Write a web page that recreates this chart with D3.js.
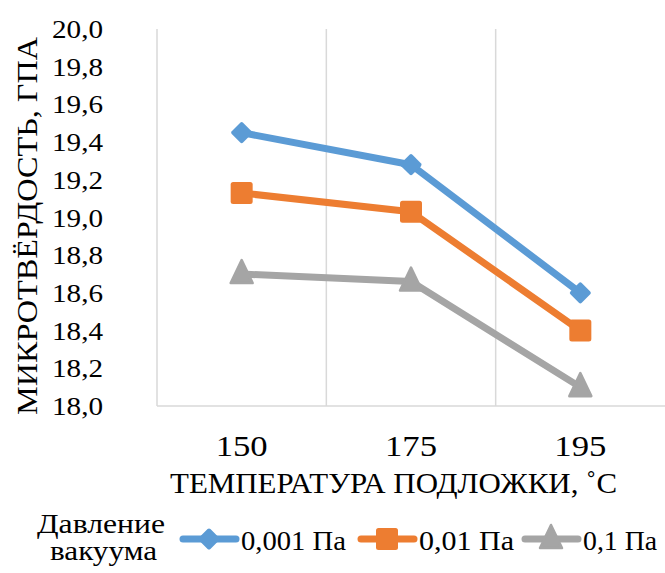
<!DOCTYPE html>
<html>
<head>
<meta charset="utf-8">
<script src="https://cdn.jsdelivr.net/npm/d3@7"></script>
<style>
  body { margin: 0; background: #fff; }
</style>
</head>
<body>
<svg id="chart" width="665" height="573"></svg>
<script>
const categories = ['150', '175', '195'];
const seriesNames = ['0,001 Па', '0,01 Па', '0,1 Па'];
const values001 = [19.45, 19.28, 18.60];
const values01 = [19.13, 19.03, 18.40];
const values1 = [18.70, 18.66, 18.10];
const yTicks = [18.0, 18.2, 18.4, 18.6, 18.8, 19.0, 19.2, 19.4, 19.6, 19.8, 20.0];

const series = [
  { name: seriesNames[0], values: values001, color: '#5B9BD5', kind: 'diamond' },
  { name: seriesNames[1], values: values01, color: '#ED7D31', kind: 'square' },
  { name: seriesNames[2], values: values1, color: '#A5A5A5', kind: 'triangle' }
];

const width = 665, height = 573;
const margin = { top: 29, right: 0, bottom: 167, left: 157 };
const innerW = width - margin.left - margin.right;
const innerH = height - margin.top - margin.bottom;
const FONT = 'Liberation Serif, Times New Roman, serif';

const svg = d3.select('#chart');

const g = svg.append('g')
  .attr('transform', `translate(${margin.left},${margin.top})`);

const x = d3.scaleBand().domain(categories).range([0, innerW]);
const y = d3.scaleLinear().domain([18, 20]).range([innerH, 0]);

// stretch text to the widths seen in the original (serif font not always picked up)
const fit = (sel, len) => sel
  .attr('textLength', len)
  .attr('lengthAdjust', 'spacingAndGlyphs');

// vertical grid lines at category boundaries
g.selectAll('line.grid')
  .data(categories)
  .join('line')
  .attr('class', 'grid')
  .attr('x1', d => x(d))
  .attr('x2', d => x(d))
  .attr('y1', 0)
  .attr('y2', innerH)
  .attr('stroke', '#d9d9d9')
  .attr('stroke-width', 1.5);

// bottom axis line
g.append('line')
  .attr('x1', 0).attr('x2', innerW)
  .attr('y1', innerH).attr('y2', innerH)
  .attr('stroke', '#d9d9d9')
  .attr('stroke-width', 1.5);

// y tick labels
g.selectAll('text.ytick')
  .data(yTicks)
  .join('text')
  .attr('class', 'ytick')
  .attr('x', -105)
  .attr('y', d => y(d))
  .attr('dy', '0.36em')
  .attr('font-family', FONT)
  .attr('font-size', 25)
  .attr('fill', '#000')
  .text(d => d.toFixed(1).replace('.', ','))
  .call(fit, 51);

// x tick labels
g.selectAll('text.xtick')
  .data(categories)
  .join('text')
  .attr('class', 'xtick')
  .attr('x', d => x(d) + x.bandwidth() / 2 - 26)
  .attr('y', innerH + 50)
  .attr('font-family', FONT)
  .attr('font-size', 29)
  .attr('fill', '#000')
  .text(d => d)
  .call(fit, 52);

// axis titles
svg.append('text')
  .attr('x', 170)
  .attr('y', 493)
  .attr('font-family', FONT)
  .attr('font-size', 30)
  .attr('fill', '#000')
  .text('ТЕМПЕРАТУРА ПОДЛОЖКИ, ˚С')
  .call(fit, 447);

svg.append('text')
  .attr('transform', 'translate(37,415) rotate(-90)')
  .attr('font-family', FONT)
  .attr('font-size', 30)
  .attr('fill', '#000')
  .text('МИКРОТВЁРДОСТЬ, ГПА')
  .call(fit, 378);

const line = d3.line()
  .x((d, i) => x(categories[i]) + x.bandwidth() / 2)
  .y(d => y(d));

function marker(sel, kind, color) {
  if (kind === 'diamond') {
    sel.append('rect')
      .attr('x', -8).attr('y', -8).attr('width', 16).attr('height', 16)
      .attr('rx', 2)
      .attr('transform', 'rotate(45)')
      .attr('fill', color);
  } else if (kind === 'square') {
    sel.append('rect')
      .attr('x', -11).attr('y', -11).attr('width', 22).attr('height', 22)
      .attr('rx', 2.5)
      .attr('fill', color);
  } else {
    sel.append('path')
      .attr('d', 'M0,-14 L11,9 L-11,9 Z')
      .attr('fill', color)
      .attr('stroke', color)
      .attr('stroke-width', 2.5)
      .attr('stroke-linejoin', 'round');
  }
}

series.forEach(s => {
  g.append('path')
    .datum(s.values)
    .attr('fill', 'none')
    .attr('stroke', s.color)
    .attr('stroke-width', 7)
    .attr('stroke-linejoin', 'round')
    .attr('d', line);

  g.selectAll(null)
    .data(s.values)
    .join('g')
    .attr('transform', (d, i) => `translate(${x(categories[i]) + x.bandwidth() / 2},${y(d)})`)
    .each(function () { marker(d3.select(this), s.kind, s.color); });
});

// legend
const legend = svg.append('g');
legend.append('text')
  .attr('x', 37).attr('y', 533)
  .attr('font-family', FONT)
  .attr('font-size', 28)
  .attr('fill', '#000')
  .text('Давление')
  .call(fit, 128);
legend.append('text')
  .attr('x', 50).attr('y', 560)
  .attr('font-family', FONT)
  .attr('font-size', 28)
  .attr('fill', '#000')
  .text('вакуума')
  .call(fit, 107);

const legendX = [180, 358, 522];
const legendTextW = [105, 95, 74];
const items = legend.selectAll('g.item')
  .data(series)
  .join('g')
  .attr('class', 'item')
  .attr('transform', (d, i) => `translate(${legendX[i]},539)`);

items.append('line')
  .attr('x1', 3).attr('x2', 56)
  .attr('stroke', d => d.color)
  .attr('stroke-width', 7)
  .attr('stroke-linecap', 'round');

items.append('g')
  .attr('transform', 'translate(29,0)')
  .each(function (d) { marker(d3.select(this), d.kind, d.color); });

items.append('text')
  .attr('x', 61)
  .attr('y', 11)
  .attr('font-family', FONT)
  .attr('font-size', 28)
  .attr('fill', '#000')
  .text(d => d.name)
  .each(function (d, i) { fit(d3.select(this), legendTextW[i]); });
</script>
</body>
</html>
